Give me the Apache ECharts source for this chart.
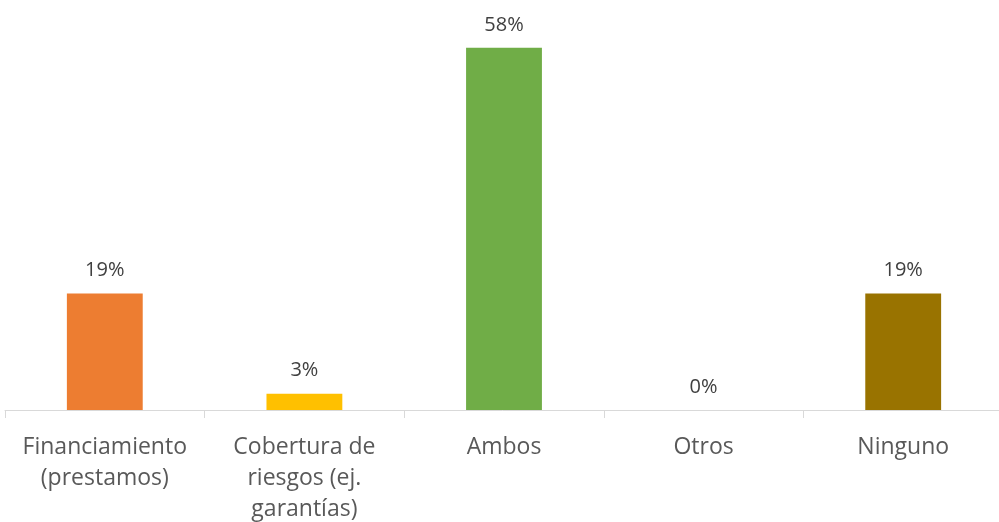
<!DOCTYPE html>
<html>
<head>
<meta charset="utf-8">
<script src="https://cdn.jsdelivr.net/npm/echarts@6/dist/echarts.min.js"></script>
<style>
  html, body { margin: 0; padding: 0; background: #fff; }
  #chart { width: 999px; height: 522px; }
</style>
</head>
<body>
<div id="chart"></div>
<script>
const categories = ['Financiamiento\n(prestamos)', 'Cobertura de\nriesgos (ej.\ngarantías)', 'Ambos', 'Otros', 'Ninguno'];
const values = [18.7, 2.6, 58.1, 0, 18.7];
const barColors = ['#ED7D31', '#FFC000', '#70AD47', '#5B9BD5', '#997300'];

const myChart = echarts.init(document.getElementById('chart'));
myChart.setOption({
  animation: false,
  grid: {left: 5, right: -4, top: 36, bottom: 112, outerBoundsMode: 'none', containLabel: false},
  xAxis: {
    type: 'category',
    data: categories,
    axisLine: {lineStyle: {color: '#D9D9D9', width: 1}},
    axisTick: {show: true, length: 8, lineStyle: {color: '#D9D9D9'}},
    axisLabel: {
      color: '#595959',
      fontFamily: 'Open Sans',
      fontSize: 23,
      lineHeight: 31,
      margin: 22,
      interval: 0
    }
  },
  yAxis: {
    type: 'value',
    min: 0,
    max: 60,
    show: false
  },
  series: [{
    type: 'bar',
    data: values.map((v, i) => ({value: v, itemStyle: {color: barColors[i]}})),
    barWidth: '38%',
    label: {
      show: true,
      position: 'top',
      distance: 13,
      color: '#404040',
      fontFamily: 'Open Sans',
      fontSize: 20,
      formatter(p) {
        return Math.round(p.value) + '%';
      }
    }
  }]
});
</script>
</body>
</html>
